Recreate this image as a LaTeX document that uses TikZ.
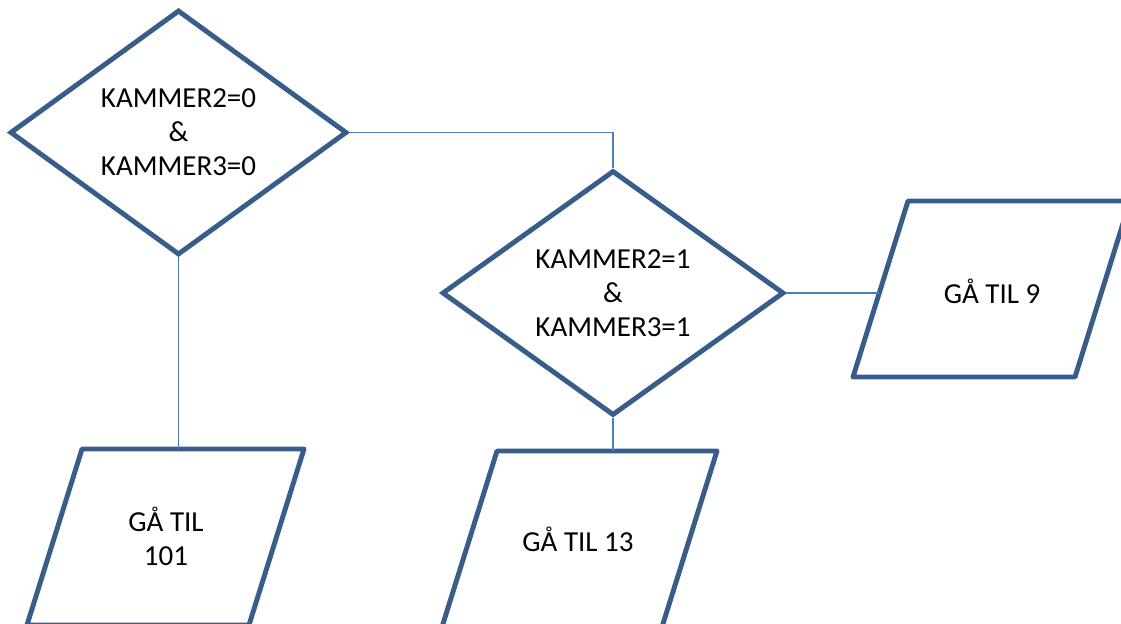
\documentclass[tikz,border=0pt]{standalone}
\usepackage{fontspec}
\setmainfont{Carlito}
\usetikzlibrary{shapes.geometric}
\definecolor{rand}{HTML}{385D8A}
\definecolor{pil}{HTML}{4A7EBB}
\tikzset{
  tekst/.style={align=center,font=\fontsize{16.5}{19.3}\selectfont},
  valg/.style={diamond,draw=rand,line width=2.8pt,fill=white,inner sep=0pt,tekst},
  boks/.style={draw=rand,line width=2.8pt,fill=white,line join=round},
  linje/.style={draw=pil,line width=1pt}
}
\begin{document}
\begin{tikzpicture}[x=0.02cm,y=-0.02cm]
\useasboundingbox (0,0) rectangle (1121,624);
\clip (0,0) rectangle (1121,624);

\node[valg,minimum width=6.74cm,minimum height=4.9cm] (null) at (178.5,132.5)
  {KAMMER2=0\\\&\\KAMMER3=0};
\node[valg,minimum width=6.84cm,minimum height=4.9cm] (en) at (613,293)
  {KAMMER2=1\\\&\\KAMMER3=1};

\draw[boks] (908,201) -- (1130,201) -- (1075,377) -- (853,377) -- cycle;
\node[tekst] (ni) at (992,291) {GÅ TIL 9};
\coordinate (ni-inn) at (879,293);

\draw[boks] (82,449) -- (304,449) -- (249,625) -- (27,625) -- cycle;
\node[tekst] (hundre) at (166,536) {GÅ TIL\\101};
\coordinate (hundre-inn) at (178.5,449);

\draw[boks] (497,451) -- (717,451) -- (662,627) -- (442,627) -- cycle;
\node[tekst] (tretten) at (578,539) {GÅ TIL 13};
\coordinate (tretten-inn) at (613,451);

%connectors
\draw[linje] (null.east) -| (en.north);
\draw[linje] (null.south) -- (hundre-inn);
\draw[linje] (en.south) -- (tretten-inn);
\draw[linje] (en.east) -- (ni-inn);

\end{tikzpicture}
\end{document}
